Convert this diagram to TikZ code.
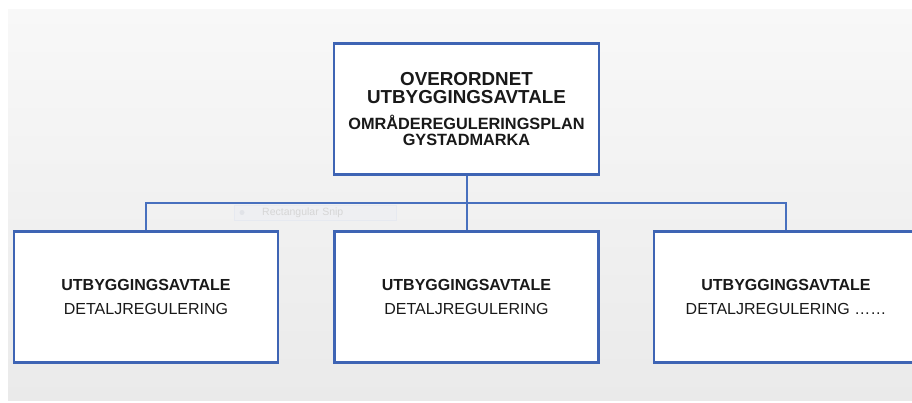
\documentclass[tikz,border=0pt]{standalone}
\usepackage{fontspec}
\setmainfont{Liberation Sans}
\definecolor{boxblue}{RGB}{62,100,180}
\definecolor{lineblue}{RGB}{72,112,190}
\definecolor{txt}{RGB}{25,25,25}
\definecolor{bgtop}{RGB}{248,248,248}
\definecolor{bgbot}{RGB}{234,234,234}
\definecolor{snipdraw}{RGB}{230,233,240}
\definecolor{snipfill}{RGB}{238,239,242}
\definecolor{sniptext}{RGB}{214,214,214}
\definecolor{snipdot}{RGB}{225,227,232}
\newcommand{\ttl}{\fontsize{18.8}{18}\selectfont\bfseries}
\newcommand{\sub}{\fontsize{16.3}{18}\selectfont\bfseries}
\newcommand{\hd}{\fontsize{16}{24}\selectfont\bfseries}
\newcommand{\rg}{\fontsize{16}{24}\selectfont}
\begin{document}
\begin{tikzpicture}[x=1pt,y=-1pt,
  box/.style={draw=boxblue, line width=2.2pt, fill=white, minimum width=264pt, minimum height=131pt, inner sep=0pt, align=center, text=txt},
  conn/.style={draw=lineblue, line width=2pt}]
\useasboundingbox (0,0) rectangle (912,403);
\fill[white] (0,0) rectangle (912,403);
\shade[top color=bgtop, bottom color=bgbot] (8,10) rectangle (912,400);
% faint screenshot artifact
\node[draw=snipdraw, fill=snipfill, minimum width=162pt, minimum height=15pt, inner sep=0pt, anchor=west, text=sniptext, font=\fontsize{10.5}{12}\selectfont, text width=150pt, align=left] (snip) at (234,212.5) {\hspace*{22pt}Rectangular Snip};
\fill[snipdot] (242,212.5) circle (2.5pt);
\node[box, minimum width=265pt, font=\fontsize{18.8}{18}\selectfont] (top) at (466.5,109) {\ttl OVERORDNET\\\ttl UTBYGGINGSAVTALE\\[8pt]\sub OMRÅDEREGULERINGSPLAN\\[-2pt]\sub GYSTADMARKA};
\node[box, font=\fontsize{16}{24}\selectfont] (c1) at (146,297) {\hd UTBYGGINGSAVTALE\\\rg DETALJREGULERING};
\node[box, font=\fontsize{16}{24}\selectfont] (c2) at (466.5,297) {\hd UTBYGGINGSAVTALE\\\rg DETALJREGULERING};
\node[box, font=\fontsize{16}{24}\selectfont] (c3) at (786,297) {\hd UTBYGGINGSAVTALE\\\rg DETALJREGULERING ……};
\coordinate (bus) at (466.5,203);
\draw[conn] (top.south) -- (bus);
\draw[conn] (bus) -| (c1.north);
\draw[conn] (bus) -- (c2.north);
\draw[conn] (bus) -| (c3.north);
\end{tikzpicture}
\end{document}
